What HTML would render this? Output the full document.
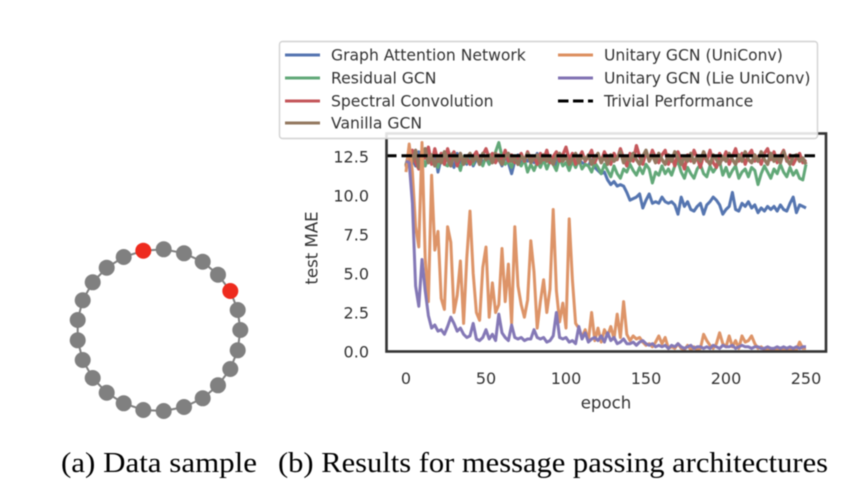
<!DOCTYPE html>
<html lang="en">
<head>
<meta charset="utf-8">
<title>Results for message passing architectures</title>
<style>
html,body{margin:0;padding:0;background:#fff;}
body{width:866px;height:498px;overflow:hidden;}
svg{display:block;filter:blur(0.5px);}
.chart-text{font-family:"DejaVu Sans","Liberation Sans",sans-serif;fill:#333;font-size:15.6px;}
.tick-text{font-size:16px;}
.axis-title{font-size:16.6px;}
.caption{font-family:"Liberation Serif",serif;fill:#000;font-size:28px;}
</style>
</head>
<body>
<svg id="figure" width="866" height="498" viewBox="0 0 866 498" xmlns="http://www.w3.org/2000/svg">
  <rect width="866" height="498" fill="#fff"/>
  <g id="ring">
    <polygon fill="none" stroke="#808080" stroke-width="2" points="143.3,250.7 163.7,249.3 184,253.3 202.7,261.7 218,274.7 230.3,291 237.7,310 240.3,330 237.7,350.3 230.3,369 218,385.3 202.7,398.3 184,407 163.7,411 143.3,410 123.7,403.3 106.7,392.7 92.7,378 82.7,360 77.7,340.3 77.7,320 82.7,300.3 92.7,282.3 106.7,267.7 123.7,257"/>
    <g fill="#808080">
      <circle cx="163.7" cy="249.3" r="8"/><circle cx="184" cy="253.3" r="8"/><circle cx="202.7" cy="261.7" r="8"/><circle cx="218" cy="274.7" r="8"/>
      <circle cx="237.7" cy="310" r="8"/><circle cx="240.3" cy="330" r="8"/><circle cx="237.7" cy="350.3" r="8"/><circle cx="230.3" cy="369" r="8"/>
      <circle cx="218" cy="385.3" r="8"/><circle cx="202.7" cy="398.3" r="8"/><circle cx="184" cy="407" r="8"/><circle cx="163.7" cy="411" r="8"/>
      <circle cx="143.3" cy="410" r="8"/><circle cx="123.7" cy="403.3" r="8"/><circle cx="106.7" cy="392.7" r="8"/><circle cx="92.7" cy="378" r="8"/>
      <circle cx="82.7" cy="360" r="8"/><circle cx="77.7" cy="340.3" r="8"/><circle cx="77.7" cy="320" r="8"/><circle cx="82.7" cy="300.3" r="8"/>
      <circle cx="92.7" cy="282.3" r="8"/><circle cx="106.7" cy="267.7" r="8"/><circle cx="123.7" cy="257" r="8"/>
    </g>
    <circle cx="143.3" cy="250.7" r="8" fill="#ee2b1e"/>
    <circle cx="230.3" cy="291" r="8" fill="#ee2b1e"/>
  </g>

  <g id="plot"></g>
  <rect x="386.5" y="133.5" width="439.5" height="218" fill="none" stroke="#333" stroke-width="2.6"/>
  <g id="xticks"></g>
  <g id="yticks"></g>
  <text class="chart-text axis-title" x="606" y="408.5" text-anchor="middle">epoch</text>
  <text class="chart-text axis-title" transform="translate(317.5,248) rotate(-90)" text-anchor="middle">test MAE</text>

  <g>
    <rect x="279.5" y="41.5" width="538" height="97" rx="3" fill="#fff" fill-opacity="0.86" stroke="#d2d2d2" stroke-width="1.4"/>
    <g><line x1="285" x2="320" y1="55" y2="55" stroke="#5575b0" stroke-width="3"/><text class="chart-text" x="331" y="60.5">Graph Attention Network</text></g>
    <g><line x1="285" x2="320" y1="78" y2="78" stroke="#62a878" stroke-width="3"/><text class="chart-text" x="331" y="83.5">Residual GCN</text></g>
    <g><line x1="285" x2="320" y1="101" y2="101" stroke="#c4565a" stroke-width="3"/><text class="chart-text" x="331" y="106.5">Spectral Convolution</text></g>
    <g><line x1="285" x2="320" y1="123" y2="123" stroke="#937860" stroke-width="3"/><text class="chart-text" x="331" y="128.5">Vanilla GCN</text></g>
    <g><line x1="558" x2="593" y1="55" y2="55" stroke="#dd8f60" stroke-width="3"/><text class="chart-text" x="604" y="60.5">Unitary GCN (UniConv)</text></g>
    <g><line x1="558" x2="593" y1="78" y2="78" stroke="#8172b3" stroke-width="3"/><text class="chart-text" x="604" y="83.5">Unitary GCN (Lie UniConv)</text></g>
    <g><line x1="558" x2="593" y1="101" y2="101" stroke="#000" stroke-width="3" stroke-dasharray="10.5 4.5"/><text class="chart-text" x="604" y="106.5">Trivial Performance</text></g>
  </g>

  <text class="caption" x="61" y="472" textLength="196" lengthAdjust="spacingAndGlyphs">(a) Data sample</text>
  <text class="caption" x="278" y="472" textLength="550" lengthAdjust="spacingAndGlyphs">(b) Results for message passing architectures</text>
</svg>
<script>
const epochStep = 2;
const xTickLabels = [0, 50, 100, 150, 200, 250];
const yTickLabels = [0, 2.5, 5, 7.5, 10, 12.5];
const trivialPerformance = 12.55;

const graphAttention = [
12.0,12.6,12.3,11.9,12.8,12.2,11.9,12.5,12.1,12.9,
11.5,12.4,12.0,12.6,12.2,11.8,12.7,12.1,12.4,12.0,
12.6,11.9,12.3,12.5,12.1,12.4,12.0,12.6,12.2,12.3,
11.9,12.5,12.1,11.4,12.2,12.6,12.0,12.4,12.2,12.5,
12.1,12.7,12.0,12.4,12.8,12.1,12.3,11.9,12.6,12.2,
12.5,12.1,12.6,11.8,12.3,12.1,12.0,11.9,12.3,11.8,
11.6,11.4,11.5,11.0,10.7,10.9,10.6,10.7,10.6,10.2,
9.7,9.8,9.9,10.1,9.2,9.7,10.1,9.5,9.6,9.5,
9.9,9.6,9.5,9.6,9.4,8.8,9.9,9.3,9.6,9.1,
9.0,9.3,9.5,8.8,9.4,9.6,9.9,9.7,9.4,8.8,
9.1,9.3,10.2,9.1,9.0,9.5,9.3,9.6,9.2,9.4,
8.9,9.2,9.0,9.3,9.1,9.3,9.0,9.4,9.1,9.0,
9.5,9.9,8.9,9.4,9.3,9.2];

const residualGcn = [
11.9,12.7,12.2,12.6,12.0,12.5,11.9,12.6,12.2,12.1,
11.8,12.7,12.0,11.9,12.6,12.8,12.2,11.6,12.5,12.1,
12.3,12.0,12.6,12.2,11.9,12.5,12.0,12.3,12.8,13.4,
12.5,12.0,12.2,11.8,12.4,12.1,11.9,12.3,11.5,12.0,
11.6,12.1,11.8,12.3,11.7,12.2,12.0,11.6,12.4,11.9,
12.1,11.6,12.2,11.8,12.3,11.7,12.0,11.9,11.5,12.1,
11.8,11.4,12.0,11.6,11.2,11.9,11.4,11.1,11.7,11.5,
12.0,11.6,11.3,11.8,11.4,12.0,11.7,10.8,11.5,11.3,
11.9,11.4,11.7,11.3,11.9,12.2,11.5,11.1,11.8,11.4,
11.1,11.7,12.0,11.4,11.2,11.9,11.5,11.8,12.2,11.3,
11.8,11.2,11.6,11.9,11.1,11.5,11.7,11.2,11.8,11.6,
10.7,11.4,11.9,11.5,11.1,11.7,11.4,12.0,11.5,11.2,
11.8,11.3,11.6,11.1,11.0,12.0];

const spectralConv = [
11.8,12.3,12.9,12.1,11.7,12.9,12.4,13.1,12.0,13.0,
12.2,12.7,12.0,13.0,12.3,12.8,11.9,12.6,12.2,12.4,
12.0,12.5,12.8,12.2,12.6,13.0,12.4,12.7,12.1,12.6,
12.3,12.9,12.2,12.6,12.1,12.4,12.7,12.2,12.8,12.3,
12.5,12.0,12.7,12.3,12.9,12.1,12.5,12.8,12.2,12.6,
13.1,12.3,12.7,12.0,12.4,12.8,12.2,12.5,12.9,12.1,
12.6,12.2,12.8,12.4,12.0,12.7,12.3,13.0,12.4,11.9,
12.7,12.2,13.2,12.5,12.0,12.8,12.3,12.9,12.4,12.1,
12.6,12.9,12.0,12.5,11.9,12.8,12.3,11.7,12.6,12.2,
12.9,12.4,11.8,12.6,12.2,12.9,12.1,11.8,12.7,12.3,
12.8,12.0,12.5,13.0,12.2,12.7,12.0,12.6,12.9,12.2,
12.5,12.0,12.7,13.0,12.3,12.8,12.1,12.5,12.9,12.2,
12.6,12.0,12.4,12.7,12.1,12.3];

const vanillaGcn = [
11.9,12.8,12.2,12.9,11.8,12.5,13.0,12.1,12.6,11.9,
12.5,12.1,12.8,12.3,11.9,12.6,12.2,12.7,12.0,12.4,
12.7,12.2,12.5,12.0,12.7,12.3,12.6,12.1,12.7,12.3,
12.0,12.5,12.7,12.2,12.4,12.0,12.5,12.3,12.7,12.1,
12.4,12.6,12.1,12.6,12.2,12.4,12.0,12.5,12.7,12.2,
12.5,12.0,12.4,12.7,12.1,12.5,12.3,12.6,12.0,12.4,
12.7,12.1,12.5,12.0,12.6,12.2,12.4,12.8,12.1,12.5,
12.2,12.7,12.3,12.0,12.5,12.9,12.2,12.6,12.1,12.7,
12.3,12.0,12.6,12.2,12.8,12.4,12.0,12.5,12.2,12.7,
12.1,12.5,12.2,12.8,12.3,12.0,12.6,12.3,12.0,12.5,
12.2,12.7,12.3,12.0,12.6,12.2,12.8,12.3,12.1,12.6,
12.2,12.8,12.3,12.0,12.7,12.2,12.5,12.1,12.8,12.3,
12.0,12.5,12.6,12.2,12.4,12.0];

const uniConv = [
11.5,13.3,11.5,8.0,6.7,13.4,6.0,3.2,11.3,6.5,
7.7,3.4,2.7,8.0,7.0,2.5,3.6,5.8,1.8,6.0,
9.0,5.0,2.5,2.0,5.4,6.7,2.2,4.4,2.5,3.0,
6.6,3.2,5.6,1.8,8.0,4.2,3.0,2.2,3.3,7.1,
5.1,1.5,3.2,4.6,2.5,4.0,9.1,3.9,1.9,3.1,
1.5,8.5,4.6,1.8,1.5,0.9,1.4,0.7,2.5,0.7,
1.5,0.6,1.4,1.0,1.6,0.8,2.4,0.9,3.2,1.1,
0.7,1.0,0.8,0.9,0.6,0.4,0.5,0.3,0.6,1.0,
0.5,0.9,0.2,0.3,0.2,0.5,0.2,0.1,0.4,0.1,
0.3,0.1,0.2,1.1,0.7,0.4,0.2,0.5,1.2,0.5,
0.3,1.0,0.3,0.7,0.2,1.0,0.6,0.7,1.0,0.5,
0.2,0.3,0.1,0.1,0.2,0.1,0.1,0.2,0.1,0.1,
0.2,0.1,0.1,0.6,0.2,0.2];

const lieUniConv = [
12.2,12.1,9.5,4.2,2.9,5.9,3.9,2.3,1.5,1.7,
1.3,1.4,1.1,1.6,2.2,1.8,1.3,1.5,1.1,0.9,
1.0,1.8,0.8,0.7,0.9,1.4,0.8,1.1,0.7,2.4,
1.2,0.9,0.7,1.7,0.9,0.8,0.9,0.7,0.8,0.8,
1.4,0.9,0.8,0.9,0.6,0.7,1.0,2.5,0.9,0.8,
0.9,0.6,0.7,0.5,1.6,0.8,1.2,0.6,0.8,0.9,
0.7,1.0,0.6,1.2,0.7,0.9,0.5,0.6,0.8,0.5,
0.5,0.6,0.4,0.6,0.7,0.5,0.4,0.5,0.3,0.4,
0.3,0.4,0.2,0.4,0.3,0.5,0.3,0.2,0.3,0.4,
0.2,0.3,0.3,0.2,0.3,0.2,0.4,0.3,0.2,0.4,
0.3,0.3,0.4,0.2,0.3,0.4,0.3,0.3,0.2,0.3,
0.3,0.2,0.2,0.3,0.2,0.2,0.3,0.2,0.3,0.2,
0.3,0.2,0.3,0.2,0.3,0.3];

const SVG_NS = 'http://www.w3.org/2000/svg';
const xScale = function (epoch) { return 406 + epoch * 1.6; };
const yScale = function (value) { return 351.5 - value * 15.6; };

const plot = document.getElementById('plot');

function drawSeries(values, color, name, width) {
  const line = document.createElementNS(SVG_NS, 'polyline');
  const pts = values.map(function (v, i) {
    return xScale(i * epochStep).toFixed(1) + ',' + yScale(v).toFixed(1);
  }).join(' ');
  line.setAttribute('points', pts);
  line.setAttribute('fill', 'none');
  line.setAttribute('stroke', color);
  line.setAttribute('stroke-width', width);
  line.setAttribute('stroke-linejoin', 'round');
  
  
  plot.appendChild(line);
}

drawSeries(graphAttention, '#5575b0', 'series-graph-attention-network', 3);
drawSeries(residualGcn, '#62a878', 'series-residual-gcn', 3);
drawSeries(spectralConv, '#c4565a', 'series-spectral-convolution', 3.2);
drawSeries(vanillaGcn, '#937860', 'series-vanilla-gcn', 3.4);
drawSeries(uniConv, '#dd9468', 'series-unitary-gcn-uniconv', 3);
drawSeries(lieUniConv, '#8478b6', 'series-unitary-gcn-lie-uniconv', 3);

const trivialLine = document.createElementNS(SVG_NS, 'line');
trivialLine.setAttribute('x1', xScale(-12.5));
trivialLine.setAttribute('x2', xScale(258.5));
trivialLine.setAttribute('y1', yScale(trivialPerformance));
trivialLine.setAttribute('y2', yScale(trivialPerformance));
trivialLine.setAttribute('stroke', '#000');
trivialLine.setAttribute('stroke-width', '3');
trivialLine.setAttribute('stroke-dasharray', '10.5 5');


plot.appendChild(trivialLine);

const xTicks = document.getElementById('xticks');
xTickLabels.forEach(function (t) {
  const label = document.createElementNS(SVG_NS, 'text');
  label.setAttribute('class', 'chart-text tick-text');
  label.setAttribute('x', xScale(t));
  label.setAttribute('y', 384);
  label.setAttribute('text-anchor', 'middle');
  
  
  label.textContent = String(t);
  xTicks.appendChild(label);
});

const yTicks = document.getElementById('yticks');
yTickLabels.forEach(function (t) {
  const label = document.createElementNS(SVG_NS, 'text');
  label.setAttribute('class', 'chart-text tick-text');
  label.setAttribute('x', 369);
  label.setAttribute('y', yScale(t) + 6);
  label.setAttribute('text-anchor', 'end');
  
  
  label.textContent = t.toFixed(1);
  yTicks.appendChild(label);
});
</script>
</body>
</html>
